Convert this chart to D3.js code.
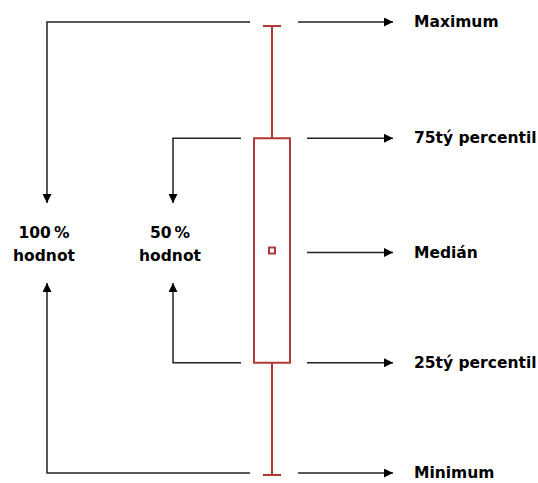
<html lang="cs">
<head>
  <meta http-equiv="Content-Type" content="text/html; charset=utf-8" />
  <script src="https://d3js.org/d3.v7.min.js"></script>
  <style>
    body { margin: 0; background: #fff; }
  </style>
</head>
<body>
  <div id="divId"></div>
  <script>
    'use strict';
    // box plot values (conceptual, in percent of the data range)
    const statNames = ["Maximum", "75tý percentil", "Medián", "25tý percentil", "Minimum"];
    const statValues = [100, 75, 50, 25, 0];
    // brackets on the left side: [from, to] and their labels
    const spanRanges = [[100, 0], [75, 25]];
    const spanLabels = [["100\u2009%", "hodnot"], ["50\u2009%", "hodnot"]];

    const width = 538;
    const height = 483;
    const boxColor = "#b03838";
    const lineColor = "#222";
    const fontFamily = "DejaVu Sans";

    const svg = d3.select("#divId")
      .append("svg")
      .attr("width", width)
      .attr("height", height);

    svg.append("defs").append("marker")
      .attr("id", "arrow")
      .attr("viewBox", "0 0 10 10")
      .attr("refX", 10).attr("refY", 5)
      .attr("markerWidth", 10).attr("markerHeight", 9)
      .attr("markerUnits", "userSpaceOnUse")
      .attr("orient", "auto")
      .append("path")
      .attr("d", "M0,0 L10,5 L0,10 Z")
      .attr("fill", "#000");

    const y = d3.scaleLinear().domain([0, 100]).range([475, 26]);
    const xBox = 272;
    const boxHalf = 18;
    const capHalf = 9;

    const [vMax, vQ3, vMed, vQ1, vMin] = statValues;

    // whiskers
    const g = svg.append("g")
      .attr("stroke", boxColor)
      .attr("stroke-width", 2)
      .attr("fill", "none");
    g.append("line").attr("x1", xBox).attr("x2", xBox).attr("y1", y(vMax)).attr("y2", y(vQ3));
    g.append("line").attr("x1", xBox).attr("x2", xBox).attr("y1", y(vQ1)).attr("y2", y(vMin));
    g.append("line").attr("x1", xBox - capHalf).attr("x2", xBox + capHalf).attr("y1", y(vMax)).attr("y2", y(vMax));
    g.append("line").attr("x1", xBox - capHalf).attr("x2", xBox + capHalf).attr("y1", y(vMin)).attr("y2", y(vMin));
    g.append("rect")
      .attr("x", xBox - boxHalf).attr("y", y(vQ3))
      .attr("width", boxHalf * 2).attr("height", y(vQ1) - y(vQ3))
      .attr("fill", "#fff");
    g.append("rect")
      .attr("x", xBox - 3).attr("y", y(vMed) - 3)
      .attr("width", 6).attr("height", 6)
      .attr("stroke-width", 2)
      .attr("fill", "#fff");

    // small vertical nudge so the extreme arrows sit a bit outside the caps
    const arrowY = v => y(v) + (v === vMax ? -4 : v === vMin ? -2 : v === vMed ? 2 : 0);

    // right side arrows and labels
    statNames.forEach((name, i) => {
      const v = statValues[i];
      const yy = arrowY(v);
      const extreme = (v === vMax || v === vMin);
      svg.append("line")
        .attr("x1", extreme ? 298 : 307).attr("x2", 393)
        .attr("y1", yy).attr("y2", yy)
        .attr("stroke", lineColor)
        .attr("stroke-width", 1.5)
        .attr("marker-end", "url(#arrow)");
      svg.append("text")
        .attr("x", 414).attr("y", yy + 5)
        .style("font-family", fontFamily)
        .style("font-weight", "bold")
        .style("font-size", "15.5px")
        .attr("fill", "#000")
        .text(name);
    });

    // left brackets
    const bracketX = [47, 173];
    const bracketEnd = [250, 241];
    const midY = 243;
    spanRanges.forEach((r, i) => {
      const x0 = bracketX[i];
      const yTop = arrowY(r[0]);
      const yBot = arrowY(r[1]);
      svg.append("path")
        .attr("d", `M${bracketEnd[i]},${yTop} H${x0} V${midY - 40}`)
        .attr("stroke", lineColor).attr("stroke-width", 1.5).attr("fill", "none")
        .attr("marker-end", "url(#arrow)");
      svg.append("path")
        .attr("d", `M${bracketEnd[i]},${yBot} H${x0} V${midY + 40}`)
        .attr("stroke", lineColor).attr("stroke-width", 1.5).attr("fill", "none")
        .attr("marker-end", "url(#arrow)");
      spanLabels[i].forEach((line, j) => {
        svg.append("text")
          .attr("x", x0 - 3).attr("y", midY - 5 + j * 23)
          .attr("text-anchor", "middle")
          .style("font-family", fontFamily)
          .style("font-weight", "bold")
          .style("font-size", "15.5px")
          .attr("fill", "#000")
          .text(line);
      });
    });
  </script>
</body>
</html>
